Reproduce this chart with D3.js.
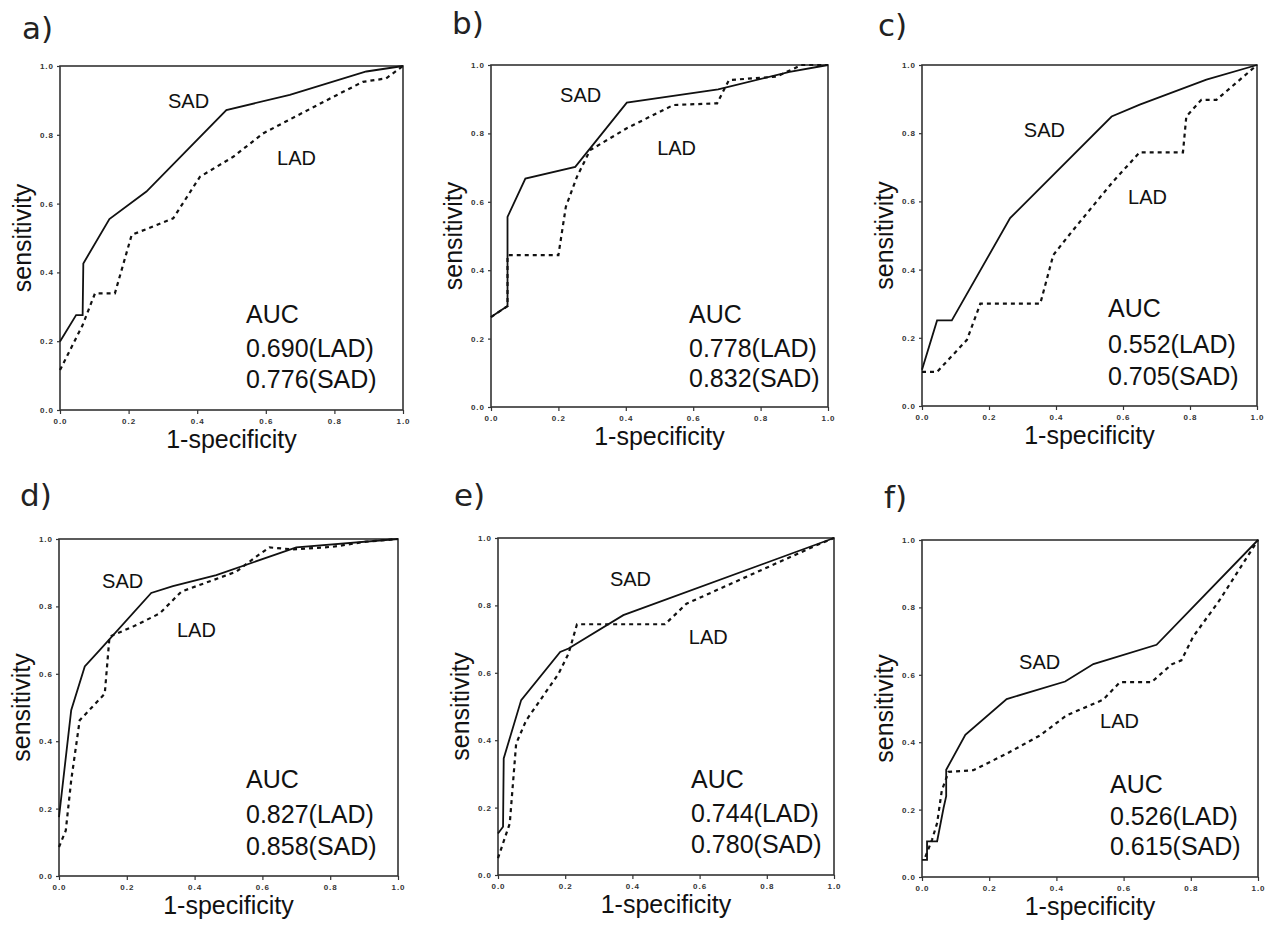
<!DOCTYPE html>
<html><head><meta charset="utf-8">
<script src="https://cdn.jsdelivr.net/npm/d3@7"></script>
<style>body{margin:0;background:#fff;}</style>
</head><body>
<svg id="chart" width="1269" height="925"></svg>
<script>
// ---------- data ----------
const tickValues = [0, 0.2, 0.4, 0.6, 0.8, 1.0];
const tickLabels = ["0.0", "0.2", "0.4", "0.6", "0.8", "1.0"];
const panelNames = ["a)", "b)", "c)", "d)", "e)", "f)"];
const aucLad = ["0.690", "0.778", "0.552", "0.827", "0.744", "0.526"];
const aucSad = ["0.776", "0.832", "0.705", "0.858", "0.780", "0.615"];

const sadA = [[0,0.199],[0.047,0.276],[0.066,0.276],[0.068,0.426],[0.144,0.555],[0.252,0.635],[0.485,0.872],[0.67,0.916],[0.893,0.984],[1,1]];
const ladA = [[0,0.116],[0.066,0.247],[0.102,0.339],[0.16,0.339],[0.209,0.509],[0.33,0.557],[0.408,0.678],[0.505,0.736],[0.592,0.804],[0.796,0.91],[0.883,0.954],[0.951,0.964],[1,1]];
const sadB = [[0,0.263],[0.049,0.295],[0.049,0.556],[0.102,0.668],[0.25,0.702],[0.403,0.89],[0.674,0.929],[0.886,0.98],[1,1]];
const ladB = [[0,0.263],[0.049,0.295],[0.049,0.444],[0.2,0.444],[0.222,0.585],[0.255,0.673],[0.294,0.751],[0.403,0.815],[0.541,0.883],[0.671,0.888],[0.706,0.956],[0.778,0.961],[0.847,0.966],[0.9,0.99],[0.92,1.0],[1,1]];
const sadC = [[0,0.106],[0.045,0.251],[0.089,0.251],[0.263,0.551],[0.566,0.849],[0.65,0.884],[0.849,0.957],[1,1]];
const ladC = [[0,0.1],[0.045,0.1],[0.134,0.194],[0.174,0.3],[0.353,0.3],[0.392,0.443],[0.452,0.517],[0.571,0.659],[0.65,0.744],[0.779,0.744],[0.789,0.849],[0.834,0.898],[0.879,0.898],[1,1]];
const sadD = [[0,0.175],[0.036,0.492],[0.076,0.622],[0.12,0.67],[0.272,0.84],[0.336,0.86],[0.464,0.893],[0.7,0.975],[1,1]];
const ladD = [[0,0.086],[0.02,0.135],[0.036,0.284],[0.061,0.462],[0.135,0.541],[0.149,0.71],[0.218,0.74],[0.297,0.779],[0.361,0.844],[0.523,0.903],[0.582,0.948],[0.621,0.975],[0.69,0.969],[0.808,0.977],[0.906,0.992],[1,1]];
const sadE = [[0,0.123],[0.015,0.143],[0.017,0.346],[0.069,0.519],[0.185,0.662],[0.21,0.672],[0.373,0.771],[1,1]];
const ladE = [[0,0.05],[0.035,0.153],[0.054,0.39],[0.084,0.459],[0.18,0.597],[0.21,0.657],[0.235,0.744],[0.497,0.744],[0.561,0.805],[0.947,0.978],[1,1]];
const sadF = [[0,0.051],[0.015,0.051],[0.015,0.106],[0.045,0.106],[0.064,0.204],[0.072,0.24],[0.072,0.318],[0.129,0.422],[0.252,0.528],[0.426,0.58],[0.51,0.632],[0.698,0.689],[1,1]];
const ladF = [[0.01,0.06],[0.03,0.111],[0.045,0.16],[0.059,0.257],[0.079,0.312],[0.153,0.317],[0.252,0.366],[0.351,0.42],[0.431,0.48],[0.539,0.526],[0.589,0.578],[0.683,0.578],[0.743,0.631],[0.772,0.643],[0.807,0.713],[0.886,0.822],[1,1]];

const sadSeries = [sadA, sadB, sadC, sadD, sadE, sadF];
const ladSeries = [ladA, ladB, ladC, ladD, ladE, ladF];

// ---------- layout ----------
const frames = [[60,66,403,410],[491,65,828,407],[922,65,1257,406],[59,539,398,876],[498,538,834,875],[922,540,1258,877]];
const panelLabelPos = [[22,39],[452,34],[878,36],[20,506],[454,506],[884,508]];
const sadLabelPos = [[0.315,0.878],[0.205,0.892],[0.304,0.789],[0.127,0.855],[0.333,0.858],[0.289,0.617]];
const ladLabelPos = [[0.633,0.712],[0.493,0.737],[0.615,0.592],[0.348,0.709],[0.568,0.685],[0.53,0.442]];
const aucPos = [[186,257,34,31],[198,258,34,30],[186,252,36,32],[187,249,35,32],[193,250,34,31],[188,253,32,30]];

const svg = d3.select("#chart");
const font = "'Liberation Sans', Arial, sans-serif";

frames.forEach((f, i) => {
  const [x0, y0, x1, y1] = f;
  const x = d3.scaleLinear().domain([0,1]).range([x0, x1]);
  const y = d3.scaleLinear().domain([0,1]).range([y1, y0]);
  const g = svg.append("g");

  // panel label
  g.append("text").attr("x", panelLabelPos[i][0]).attr("y", panelLabelPos[i][1])
    .attr("font-family", "'DejaVu Sans', Verdana, sans-serif").attr("font-size", 31)
    .attr("fill", "#222").text(panelNames[i]);

  // axes
  const xAxis = d3.axisBottom(x).tickValues(tickValues).tickFormat((d, k) => tickLabels[k]).tickSize(4).tickSizeOuter(0);
  const yAxis = d3.axisLeft(y).tickValues(tickValues).tickFormat((d, k) => tickLabels[k]).tickSize(3).tickSizeOuter(0);
  const gx = g.append("g").attr("transform", `translate(0,${y1})`).call(xAxis);
  const gy = g.append("g").attr("transform", `translate(${x0},0)`).call(yAxis);
  [gx, gy].forEach(a => {
    a.select(".domain").remove();
    a.selectAll("line").attr("stroke", "#333").attr("stroke-width", 1.2);
    a.selectAll("text").attr("font-family", font).attr("font-size", 8).attr("font-weight", "bold")
      .attr("fill", "#333").attr("letter-spacing", 1);
  });
  gx.selectAll("text").attr("dy", "0.9em");

  // frame
  g.append("rect").attr("x", x0).attr("y", y0).attr("width", x1 - x0).attr("height", y1 - y0)
    .attr("fill", "none").attr("stroke", "#333").attr("stroke-width", 1.6);

  // curves
  const line = d3.line().x(d => x(d[0])).y(d => y(d[1]));
  g.append("path").datum(ladSeries[i]).attr("d", line).attr("fill", "none")
    .attr("stroke", "#111").attr("stroke-width", 2.2).attr("stroke-dasharray", "4,4");
  g.append("path").datum(sadSeries[i]).attr("d", line).attr("fill", "none")
    .attr("stroke", "#111").attr("stroke-width", 1.8);

  // series labels
  g.append("text").attr("x", x(sadLabelPos[i][0])).attr("y", y(sadLabelPos[i][1]))
    .attr("font-family", font).attr("font-size", 20).attr("fill", "#111").text("SAD");
  g.append("text").attr("x", x(ladLabelPos[i][0])).attr("y", y(ladLabelPos[i][1]))
    .attr("font-family", font).attr("font-size", 20).attr("fill", "#111").text("LAD");

  // AUC block
  const [ax, ab, s1, s2] = aucPos[i];
  const auc = g.append("text").attr("font-family", font).attr("font-size", 25).attr("fill", "#111");
  auc.append("tspan").attr("x", x0 + ax).attr("y", y0 + ab).text("AUC");
  auc.append("tspan").attr("x", x0 + ax).attr("y", y0 + ab + s1).text(aucLad[i] + "(LAD)");
  auc.append("tspan").attr("x", x0 + ax).attr("y", y0 + ab + s1 + s2).text(aucSad[i] + "(SAD)");

  // axis titles
  g.append("text").attr("x", (x0 + x1) / 2).attr("y", y1 + 38).attr("text-anchor", "middle")
    .attr("font-family", font).attr("font-size", 25).attr("fill", "#111").text("1-specificity");
  g.append("text").attr("transform", `translate(${x0 - 29},${(y0 + y1) / 2}) rotate(-90)`)
    .attr("text-anchor", "middle").attr("font-family", font).attr("font-size", 25)
    .attr("fill", "#111").text("sensitivity");
});
</script>
</body></html>
